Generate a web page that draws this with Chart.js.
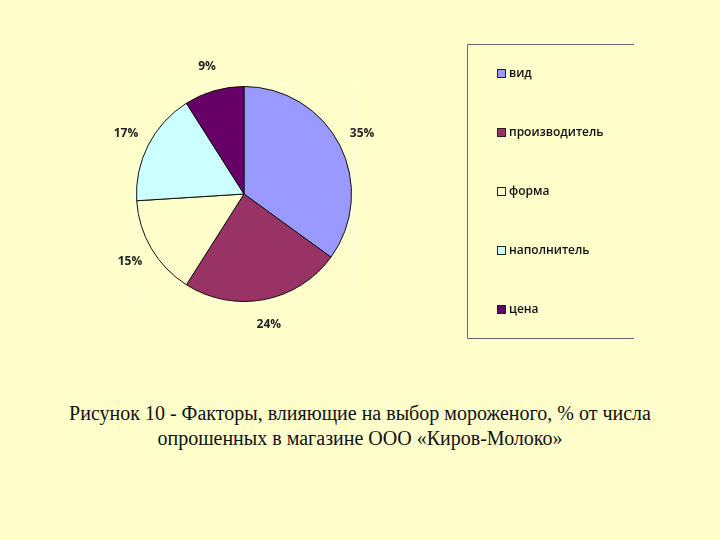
<!DOCTYPE html>
<html>
<head>
<meta charset="utf-8">
<script src="https://cdn.jsdelivr.net/npm/chart.js@4"></script>
<style>
  html, body { margin: 0; padding: 0; background: #FFFFCC; }
  body { width: 720px; height: 540px; position: relative; overflow: hidden; }
  #wrap { position: absolute; left: 0; top: 0; width: 720px; height: 390px; }
  #caption {
    position: absolute; left: 0; top: 401px; width: 720px; text-align: center;
    font-family: "Liberation Serif", "Times New Roman", serif; font-size: 20px;
    line-height: 25px; color: #111;
  }
</style>
</head>
<body>
<div id="wrap"><canvas id="chart" width="720" height="390"></canvas></div>
<div id="caption">Рисунок 10 - Факторы, влияющие на выбор мороженого, % от числа<br>опрошенных в магазине ООО «Киров-Молоко»</div>
<script>
const categories = ['вид', 'производитель', 'форма', 'наполнитель', 'цена'];
const shares = [35, 24, 15, 17, 9];
const sliceColors = ['#9999FF', '#993366', '#FFFFCC', '#CCFFFF', '#660066'];

// faint plot-area frame behind the pie
const plotFrame = {
  id: 'plotFrame',
  beforeDraw(chart) {
    const { ctx, chartArea } = chart;
    ctx.save();
    ctx.strokeStyle = 'rgba(255,255,255,0.35)';
    ctx.lineWidth = 1;
    ctx.strokeRect(chartArea.left - 1.5, chartArea.top - 1.5, chartArea.width + 2, chartArea.height - 2);
    ctx.restore();
  }
};

// percent labels outside each slice
const outsideLabels = {
  id: 'outsideLabels',
  afterDatasetsDraw(chart) {
    const { ctx } = chart;
    const meta = chart.getDatasetMeta(0);
    ctx.save();
    ctx.font = 'bold 12px "Open Sans", "Noto Sans", sans-serif';
    ctx.fillStyle = '#222';
    ctx.textAlign = 'center';
    ctx.textBaseline = 'middle';
    meta.data.forEach((arc, i) => {
      const mid = (arc.startAngle + arc.endAngle) / 2;
      const d = arc.outerRadius + 25;
      const x = arc.x + Math.cos(mid) * d;
      const y = arc.y + Math.sin(mid) * d;
      ctx.fillText(shares[i] + '%', x, y);
    });
    ctx.restore();
  }
};

// framed legend on the right, like the spreadsheet chart
const sideLegend = {
  id: 'sideLegend',
  afterDraw(chart) {
    const { ctx } = chart;
    const left = 467.5, top = 44.5, right = 634, bottom = 338.5;
    ctx.save();
    ctx.strokeStyle = '#666';
    ctx.lineWidth = 1;
    ctx.beginPath();
    ctx.moveTo(right, top);
    ctx.lineTo(left, top);
    ctx.lineTo(left, bottom);
    ctx.lineTo(right, bottom);
    ctx.stroke();

    ctx.font = '600 12px "Open Sans", "Noto Sans", sans-serif';
    ctx.textAlign = 'left';
    ctx.textBaseline = 'middle';
    chart.data.labels.forEach((label, i) => {
      const y = 74 + i * 59;
      ctx.fillStyle = chart.data.datasets[0].backgroundColor[i];
      ctx.fillRect(497.5, y - 4.5, 8, 8);
      ctx.strokeStyle = '#222';
      ctx.strokeRect(497.5, y - 4.5, 8, 8);
      ctx.fillStyle = '#111';
      ctx.fillText(label, 509, y);
    });
    ctx.restore();
  }
};

new Chart(document.getElementById('chart'), {
  type: 'pie',
  data: {
    labels: categories,
    datasets: [{
      data: shares,
      backgroundColor: sliceColors,
      borderColor: '#111',
      borderWidth: 1
    }]
  },
  options: {
    responsive: false,
    animation: false,
    layout: { padding: { left: 136, top: 86, right: 368, bottom: 88 } },
    plugins: {
      legend: { display: false },
      tooltip: { enabled: false }
    }
  },
  plugins: [plotFrame, outsideLabels, sideLegend]
});
</script>
</body>
</html>
